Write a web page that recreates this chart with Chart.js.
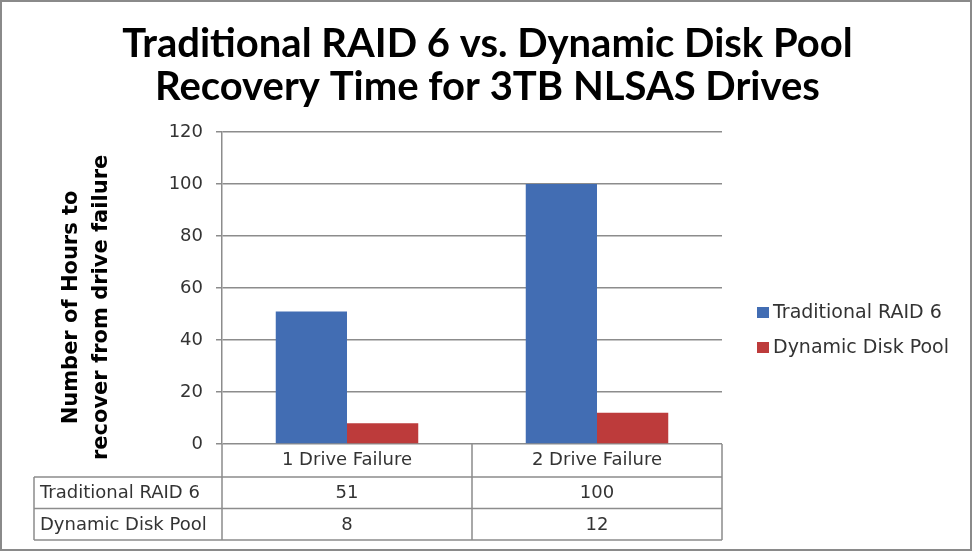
<!DOCTYPE html>
<html>
<head>
<meta charset="utf-8">
<script src="https://cdn.jsdelivr.net/npm/chart.js@4/dist/chart.umd.min.js"></script>
<style>
  html, body { margin: 0; padding: 0; background: #fff; }
  #wrap { width: 975px; height: 555px; }
</style>
</head>
<body>
<div id="wrap"><canvas id="chart1" width="975" height="555"></canvas></div>
<script>
// chart data
var categories = ["1 Drive Failure", "2 Drive Failure"];
var seriesNames = ["Traditional RAID 6", "Dynamic Disk Pool"];
var raid6Hours = [51, 100];
var diskPoolHours = [8, 12];
var seriesColors = ["#426db3", "#bd3b3b"];
var yMin = 0, yMax = 120, yStep = 20;

var titleLines = ["Traditional RAID 6 vs. Dynamic Disk Pool", "Recovery Time for 3TB NLSAS Drives"];
var yTitleLines = ["Number of Hours to\u2002\u2002\u2002 ", "recover from drive failure\u2002\u2002\u2002 "];

var lineGray = "#8c8c8c";
var textGray = "#333333";
var bodyFont = "'DejaVu Sans', sans-serif";
var headFont = "Lato, 'DejaVu Sans', sans-serif";

var tableBottom = 540;

// background, title, data table, legend and frame
var extras = {
    id: "extras",
    beforeDraw: function (chart) {
        var c = chart.ctx;
        c.save();
        c.fillStyle = "#fff";
        c.fillRect(0, 0, chart.width, chart.height);
        // title is centred on the whole picture, not on the plot
        c.fillStyle = "#000";
        c.font = "bold 40px " + headFont;
        c.textAlign = "center";
        c.textBaseline = "alphabetic";
        titleLines.forEach(function (t, i) {
            c.fillText(t, chart.width / 2, 57 + i * 43);
        });
        c.restore();
    },
    afterDraw: function (chart) {
        var c = chart.ctx;
        var area = chart.chartArea;
        var x = chart.scales.x;
        var n = categories.length;
        var step = (area.right - area.left) / n;
        var rowTop = area.bottom + 33;
        var rowH = (tableBottom - rowTop) / 2;
        var leftEdge = 34;

        c.save();
        c.strokeStyle = lineGray;
        c.lineWidth = 1.5;
        c.beginPath();
        for (var i = 0; i <= n; i++) {
            var bx = area.left + i * step;
            c.moveTo(bx, area.bottom);
            c.lineTo(bx, tableBottom);
        }
        c.moveTo(leftEdge, rowTop);
        c.lineTo(leftEdge, tableBottom);
        for (var r = 0; r <= 2; r++) {
            var ly = rowTop + r * rowH;
            c.moveTo(leftEdge, ly);
            c.lineTo(area.right, ly);
        }
        c.stroke();

        c.fillStyle = textGray;
        c.font = "18px " + bodyFont;
        c.textBaseline = "middle";
        chart.data.datasets.forEach(function (ds, di) {
            var cy = rowTop + rowH * di + rowH / 2 + 1;
            c.textAlign = "left";
            c.fillText(ds.label, leftEdge + 6, cy);
            c.textAlign = "center";
            ds.data.forEach(function (v, i) {
                c.fillText(String(v), x.getPixelForValue(i), cy);
            });
        });

        // legend
        c.font = "19px " + bodyFont;
        c.textAlign = "left";
        chart.data.datasets.forEach(function (ds, di) {
            var ly = 312 + di * 35;
            c.fillStyle = ds.backgroundColor;
            c.fillRect(757, ly - 5, 12, 11);
            c.fillStyle = textGray;
            c.fillText(ds.label, 773, ly + 1);
        });

        // outer frame
        c.strokeStyle = "#8a8a8a";
        c.lineWidth = 2;
        c.strokeRect(1, 1, 970, 549);
        c.restore();
    }
};

var ctx = document.getElementById("chart1").getContext("2d");
var myChart = new Chart(ctx, {
    type: "bar",
    data: {
        labels: categories,
        datasets: [
            {
                label: seriesNames[0],
                data: raid6Hours,
                backgroundColor: seriesColors[0],
                borderWidth: 0,
            },
            {
                label: seriesNames[1],
                data: diskPoolHours,
                backgroundColor: seriesColors[1],
                borderWidth: 0,
            },
        ],
    },
    plugins: [extras],
    options: {
        responsive: false,
        animation: false,
        events: [],
        datasets: {
            bar: { categoryPercentage: 0.57, barPercentage: 1.0 },
        },
        layout: {
            padding: { top: 132, left: 40, right: 253, bottom: 15 },
        },
        plugins: {
            legend: { display: false },
            tooltip: { enabled: false },
            title: { display: false },
        },
        scales: {
            x: {
                grid: { display: false, drawTicks: false },
                border: { display: false },
                ticks: {
                    color: textGray,
                    font: { family: bodyFont, size: 18 },
                    padding: 6,
                },
                afterFit: function (scale) {
                    scale.height = tableBottom - 444;
                },
            },
            y: {
                min: yMin,
                max: yMax,
                ticks: {
                    stepSize: yStep,
                    color: textGray,
                    font: { family: bodyFont, size: 18 },
                    padding: 13,
                },
                grid: {
                    color: lineGray,
                    lineWidth: 1.5,
                    tickLength: 6,
                    tickColor: lineGray,
                },
                border: { display: true, color: lineGray, width: 1.5 },
                title: {
                    display: true,
                    text: yTitleLines,
                    color: "#000",
                    font: { family: bodyFont, size: 21, weight: "bold", lineHeight: 1.4 },
                    padding: { top: 17, bottom: 0 },
                },
                afterFit: function (scale) {
                    scale.width = 222 - 40;
                },
            },
        },
    },
});
</script>
</body>
</html>
